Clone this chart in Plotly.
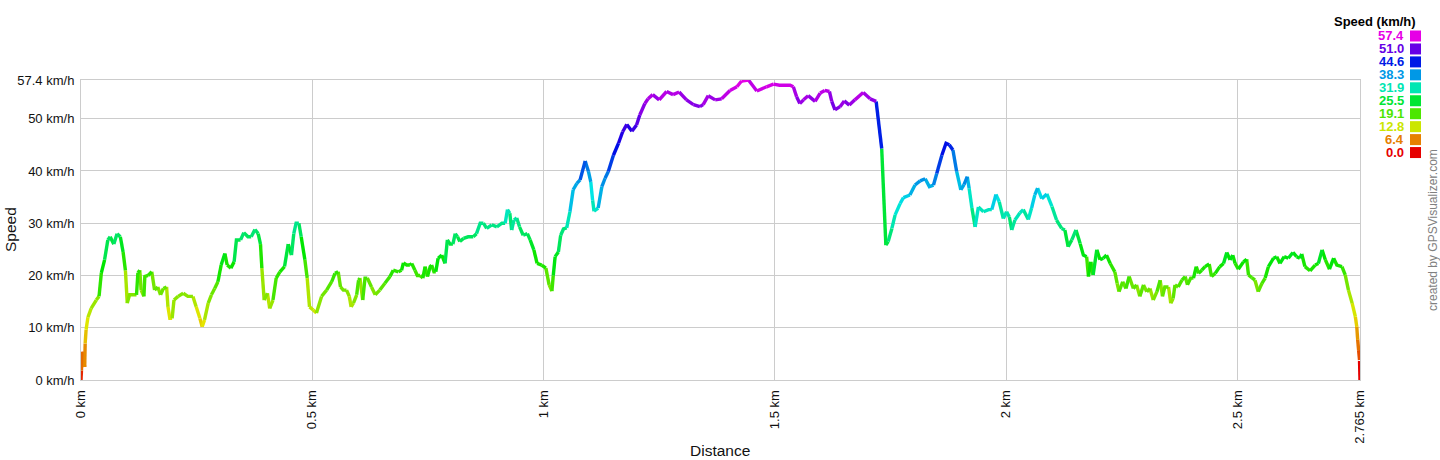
import colorsys
import plotly.graph_objects as go

# ---------------- data (distance in km, speed in km/h) ----------------
dist_a = [0.000, 0.001, 0.002, 0.008, 0.009, 0.011, 0.015, 0.022, 0.033, 0.039, 0.044,
          0.051, 0.058, 0.063, 0.071, 0.078, 0.085, 0.091, 0.096, 0.100, 0.105,
          0.112, 0.120, 0.123, 0.127, 0.130, 0.136, 0.138, 0.145, 0.153, 0.159,
          0.166, 0.172, 0.178, 0.185, 0.188, 0.192, 0.197, 0.201, 0.210, 0.221,
          0.231, 0.242, 0.249, 0.257, 0.262, 0.267, 0.275, 0.282, 0.289, 0.296,
          0.303, 0.311, 0.316, 0.324, 0.331, 0.336, 0.345, 0.352, 0.361, 0.368,
          0.376, 0.383, 0.388, 0.391, 0.396, 0.403, 0.408, 0.415, 0.422, 0.430,
          0.440, 0.448, 0.455, 0.460, 0.465, 0.471, 0.476, 0.484, 0.489, 0.494,
          0.502, 0.509]
speed_a = [0.0, 1.8, 5.4, 2.5, 7.0, 9.6, 12.0, 13.7, 15.3, 16.0, 20.5,
           23.0, 26.8, 27.4, 26.0, 28.0, 27.4, 24.5, 21.0, 14.7, 16.3,
           16.3, 16.3, 20.5, 21.0, 17.2, 16.0, 19.8, 20.0, 20.7, 17.2,
           17.8, 16.3, 17.5, 17.8, 14.0, 11.8, 11.8, 15.3, 16.0, 16.6,
           16.0, 16.0, 14.0, 11.8, 10.2, 11.5, 14.7, 16.3, 17.5, 18.8,
           22.0, 24.2, 22.0, 21.4, 22.6, 26.8, 26.8, 28.2, 27.4, 27.4,
           28.8, 28.0, 26.0, 21.4, 15.3, 16.6, 13.7, 15.3, 19.5, 20.7,
           21.7, 26.0, 23.9, 28.0, 30.0, 30.0, 27.4, 23.0, 19.5, 14.0,
           13.4, 12.8]

dist_b = [0.520, 0.531, 0.542, 0.549, 0.556, 0.561, 0.567, 0.574, 0.580, 0.584,
          0.589, 0.596, 0.600, 0.603, 0.609, 0.614, 0.619, 0.628, 0.636, 0.646,
          0.657, 0.668, 0.675, 0.686, 0.693, 0.697, 0.704, 0.711, 0.715, 0.722,
          0.727, 0.733, 0.739, 0.744, 0.749, 0.755, 0.758, 0.763, 0.767, 0.772,
          0.780, 0.787, 0.792, 0.798, 0.804, 0.809, 0.814, 0.819, 0.827, 0.837,
          0.848, 0.855, 0.863, 0.870, 0.877, 0.888, 0.899, 0.910, 0.917, 0.922,
          0.927, 0.931, 0.936, 0.942, 0.948, 0.956, 0.965, 0.971, 0.979, 0.986,
          0.996, 1.005]
speed_b = [16.0, 17.2, 18.8, 20.4, 20.7, 17.8, 17.2, 17.2, 16.0, 14.0,
           14.7, 16.3, 19.1, 19.5, 15.3, 19.5, 19.5, 17.8, 16.3, 17.2,
           18.5, 19.8, 21.0, 20.7, 21.0, 22.4, 22.0, 22.0, 22.3, 21.0,
           20.0, 20.0, 19.5, 21.7, 19.8, 21.7, 22.0, 20.7, 20.7, 23.3,
           23.9, 22.3, 26.8, 26.0, 26.0, 28.0, 27.4, 26.5, 27.1, 27.4,
           27.4, 28.0, 30.0, 30.0, 29.0, 29.7, 29.3, 30.0, 30.0, 32.6,
           31.9, 28.7, 30.6, 31.0, 29.3, 27.7, 28.0, 26.8, 24.9, 22.3,
           22.0, 21.4]

dist_c = [1.012, 1.018, 1.021, 1.025, 1.032, 1.037, 1.043, 1.050, 1.057, 1.064,
          1.072, 1.079, 1.090, 1.097, 1.102, 1.106, 1.109, 1.118, 1.126, 1.133,
          1.140, 1.151, 1.162, 1.171, 1.180, 1.191, 1.201, 1.208, 1.219, 1.226,
          1.236, 1.250, 1.266, 1.280, 1.293, 1.309, 1.324, 1.338, 1.345, 1.356,
          1.371, 1.385, 1.403, 1.418, 1.428, 1.443, 1.461, 1.482, 1.497, 1.510]
speed_c = [18.2, 17.0, 20.0, 23.6, 24.5, 27.7, 28.9, 29.1, 32.2, 36.4,
           37.6, 38.3, 41.9, 39.9, 37.9, 34.4, 32.3, 32.9, 37.0, 38.6,
           39.9, 43.0, 45.3, 47.5, 48.9, 47.6, 48.8, 50.7, 52.9, 53.8,
           54.6, 53.6, 55.2, 54.6, 55.1, 53.6, 52.7, 52.3, 52.7, 54.4,
           53.6, 53.8, 55.4, 56.1, 57.2, 57.4, 55.3, 56.1, 56.6, 56.4]

dist_d = [1.533, 1.540, 1.547, 1.554, 1.562, 1.572, 1.587, 1.598, 1.608, 1.618,
          1.623, 1.630, 1.641, 1.650, 1.661, 1.673, 1.691, 1.706, 1.719, 1.731,
          1.740, 1.745, 1.753, 1.760, 1.771, 1.778, 1.792, 1.803, 1.814, 1.825,
          1.834, 1.843, 1.850, 1.861, 1.870, 1.877, 1.885, 1.893, 1.902, 1.909,
          1.916, 1.920, 1.926, 1.933, 1.940, 1.951, 1.962, 1.969, 1.978, 1.985,
          1.994, 2.001, 2.007, 2.012]
speed_d = [56.4, 56.1, 54.2, 52.9, 53.6, 54.4, 53.3, 54.9, 55.4, 55.2,
           53.3, 51.7, 52.3, 53.4, 52.6, 53.6, 55.0, 53.8, 53.3, 44.3,
           25.8, 26.5, 29.0, 31.6, 33.8, 34.9, 35.4, 37.3, 38.1, 38.5,
           37.0, 37.3, 39.5, 43.0, 45.3, 45.0, 44.0, 39.9, 36.4, 37.4,
           38.9, 36.7, 32.9, 29.3, 33.1, 32.2, 32.6, 32.6, 35.5, 34.1,
           30.9, 32.2, 31.2, 28.7]

dist_e = [2.019, 2.030, 2.037, 2.048, 2.055, 2.062, 2.068, 2.077, 2.088, 2.099,
          2.109, 2.120, 2.127, 2.134, 2.142, 2.151, 2.160, 2.167, 2.174, 2.178,
          2.183, 2.188, 2.196, 2.203, 2.210, 2.217, 2.225, 2.235, 2.240, 2.244,
          2.252, 2.259, 2.266, 2.275, 2.282, 2.289, 2.297, 2.304, 2.311, 2.318,
          2.326, 2.333, 2.338, 2.343, 2.351, 2.356, 2.361, 2.365, 2.372, 2.380,
          2.387, 2.392, 2.399, 2.405, 2.411, 2.416, 2.423, 2.430, 2.439, 2.444,
          2.452, 2.462, 2.470, 2.477, 2.484, 2.490, 2.495, 2.502, 2.513, 2.520,
          2.524, 2.531, 2.538, 2.545, 2.553, 2.560, 2.567, 2.578, 2.585, 2.592,
          2.601, 2.610, 2.620, 2.628, 2.635, 2.639, 2.646, 2.657, 2.668, 2.675,
          2.683, 2.690, 2.699, 2.708, 2.715, 2.726, 2.733, 2.740, 2.748, 2.755,
          2.758, 2.760, 2.762, 2.764, 2.765]
speed_e = [30.6, 32.0, 32.6, 30.7, 32.9, 35.4, 36.7, 34.7, 35.6, 33.2,
           30.6, 29.0, 28.7, 25.5, 26.8, 28.7, 26.1, 23.9, 23.6, 19.8,
           22.6, 20.1, 24.9, 23.0, 23.3, 23.9, 22.3, 20.7, 18.5, 16.9,
           18.8, 17.5, 19.8, 17.5, 18.2, 16.0, 18.2, 16.9, 17.5, 15.3,
           16.9, 19.1, 16.0, 17.8, 17.8, 14.7, 15.6, 18.2, 17.8, 19.1,
           19.8, 18.2, 19.5, 19.5, 21.7, 20.4, 21.0, 21.7, 22.2, 19.8,
           20.4, 21.7, 22.3, 24.4, 23.0, 23.9, 22.3, 21.2, 22.6, 23.1,
           20.1, 19.6, 19.1, 16.9, 18.5, 19.5, 21.7, 23.3, 23.6, 22.3,
           23.6, 23.3, 24.4, 23.6, 23.3, 24.1, 21.7, 20.9, 22.0, 22.3,
           24.9, 23.0, 21.2, 23.3, 22.0, 21.7, 20.1, 17.2, 14.7, 12.1,
           10.2, 7.7, 5.7, 3.8, 0.0]

x_tick_vals = [0, 0.5, 1, 1.5, 2, 2.5, 2.765]
x_tick_text = ["0 km", "0.5 km", "1 km", "1.5 km", "2 km", "2.5 km", "2.765 km"]
y_tick_vals = [0, 10, 20, 30, 40, 50, 57.4]
y_tick_text = ["0 km/h", "10 km/h", "20 km/h", "30 km/h", "40 km/h", "50 km/h", "57.4 km/h"]
legend_values = [57.4, 51.0, 44.6, 38.3, 31.9, 25.5, 19.1, 12.8, 6.4, 0.0]

distance = dist_a + dist_b + dist_c + dist_d + dist_e
speed = speed_a + speed_b + speed_c + speed_d + speed_e
assert len(distance) == len(speed)

VMAX = 57.4
NBINS = 150


def color_for(v):
    v = max(0.0, min(v, VMAX))
    h = v / VMAX * 300.0 / 360.0
    r, g, b = colorsys.hsv_to_rgb(h, 1.0, 0.9)
    return "rgb(%d,%d,%d)" % (round(r * 255), round(g * 255), round(b * 255))


def bin_of(v):
    return int(round(max(0.0, min(v, VMAX)) / VMAX * NBINS))


# group segments by colour (segment coloured by its end value)
runs = {}
prev_bin = None
for i in range(len(distance) - 1):
    b = bin_of(speed[i + 1])
    xs, ys = runs.setdefault(b, ([], []))
    if b == prev_bin:
        xs.append(distance[i + 1])
        ys.append(speed[i + 1])
    else:
        if xs:
            xs.append(None)
            ys.append(None)
        xs.extend([distance[i], distance[i + 1]])
        ys.extend([speed[i], speed[i + 1]])
    prev_bin = b

fig = go.Figure()
for b in sorted(runs):
    xs, ys = runs[b]
    fig.add_trace(go.Scatter(
        x=xs, y=ys, mode="lines",
        line=dict(color=color_for(b / NBINS * VMAX), width=3.4),
        hoverinfo="skip", showlegend=False, connectgaps=False,
    ))

W, H = 1440, 460
L, R, T, B = 81, 80, 80, 80
PW, PH = W - L - R, H - T - B


def px(xp):
    return (xp - L) / PW


def py(yp):
    return (H - B - yp) / PH


FONT = "Liberation Sans, Arial, sans-serif"
annotations = []
shapes = []

# axis titles
annotations.append(dict(text="Speed", x=px(10), y=0.5, xref="paper", yref="paper",
                        xanchor="center", yanchor="middle", textangle=-90, showarrow=False,
                        font=dict(family=FONT, size=15.5, color="#111")))
annotations.append(dict(text="Distance", x=px(720), y=py(450), xref="paper", yref="paper",
                        xanchor="center", yanchor="middle", showarrow=False,
                        font=dict(family=FONT, size=15.5, color="#111")))

# colour legend
annotations.append(dict(text="<b>Speed (km/h)</b>", x=px(1418), y=py(21.5), xref="paper",
                        yref="paper", xanchor="right", yanchor="middle", showarrow=False,
                        font=dict(family=FONT, size=13, color="#000")))
for k, v in enumerate(legend_values):
    cy = 36 + k * 12.95
    c = color_for(v)
    annotations.append(dict(text="<b>%.1f</b>" % v, x=px(1406), y=py(cy), xref="paper",
                            yref="paper", xanchor="right", yanchor="middle", showarrow=False,
                            font=dict(family=FONT, size=13, color=c)))
    shapes.append(dict(type="rect", xref="paper", yref="paper",
                       x0=px(1410), x1=px(1421), y0=py(cy + 5.5), y1=py(cy - 5.5),
                       fillcolor=c, line=dict(width=0)))

annotations.append(dict(text="created by GPSVisualizer.com", x=px(1433), y=py(230),
                        xref="paper", yref="paper", xanchor="center", yanchor="middle",
                        textangle=-90, showarrow=False,
                        font=dict(family=FONT, size=12, color="#808080")))

fig.update_layout(
    width=W, height=H,
    margin=dict(l=L, r=R, t=T, b=B, pad=0),
    paper_bgcolor="white", plot_bgcolor="white",
    showlegend=False,
    annotations=annotations, shapes=shapes,
    xaxis=dict(range=[0, 2.765], tickmode="array", tickvals=x_tick_vals, ticktext=x_tick_text,
               tickangle=-90, showgrid=True, gridcolor="#cccccc", gridwidth=1,
               zeroline=False, showline=True, linecolor="#cccccc", linewidth=1, mirror=True,
               ticks="outside", ticklen=4, tickcolor="rgba(0,0,0,0)",
               tickfont=dict(family=FONT, size=13, color="#111"), fixedrange=True),
    yaxis=dict(range=[0, 57.4], tickmode="array", tickvals=y_tick_vals, ticktext=y_tick_text,
               showgrid=True, gridcolor="#cccccc", gridwidth=1,
               zeroline=False, showline=True, linecolor="#cccccc", linewidth=1, mirror=True,
               ticks="outside", ticklen=3, tickcolor="rgba(0,0,0,0)",
               tickfont=dict(family=FONT, size=13, color="#111"), fixedrange=True),
)

fig.write_html("out.html", config={"displayModeBar": False},
               post_script="document.body.style.margin='0px';document.body.style.overflow='hidden';")
